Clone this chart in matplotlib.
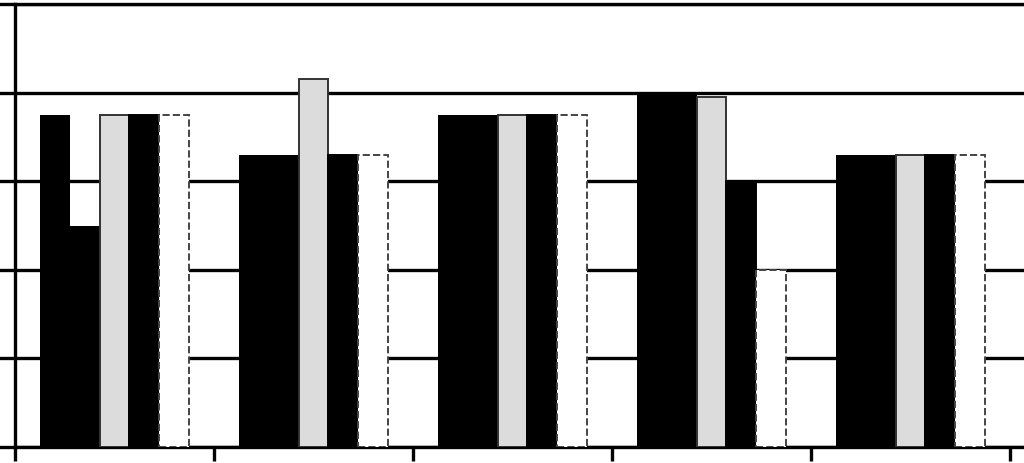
import matplotlib
matplotlib.use("Agg")
import matplotlib.pyplot as plt
import numpy as np

categories = ["G1", "G2", "G3", "G4", "G5"]
series_a = [75, 66, 75, 80, 66]
series_b = [50, 66, 75, 80, 66]
series_c = [75, 83, 75, 79, 66]
series_d = [75, 66, 75, 60, 66]
series_e = [75, 66, 75, 40, 66]
y_ticks = [0, 20, 40, 60, 80, 100]

series = [series_a, series_b, series_c, series_d, series_e]
faces = ["black", "black", "#dcdcdc", "black", "white"]
edges = ["black", "black", "#333333", "black", "#444444"]

fig = plt.figure(figsize=(10.24, 4.63), dpi=100)
ax = fig.add_axes([15/1024, 16/463, 1 - 15/1024, (447-4)/463])

x = np.arange(len(categories))
w = 0.15
for i, vals in enumerate(series):
    ax.bar(x + (i - 2) * w, vals, width=w, color=faces[i], edgecolor=edges[i],
           linewidth=1.4 if i >= 2 else 0, zorder=3,
           linestyle="--" if i == 4 else "-")

ax.set_ylim(0, 100)
ax.set_xlim(-0.5, 4.57)
ax.set_yticks(y_ticks)
ax.set_yticklabels([])
ax.set_xticks(np.arange(-0.5, 5, 1))
ax.set_xticklabels([])
ax.grid(axis="y", color="black", linewidth=2.4, zorder=0)
ax.set_axisbelow(True)
ax.spines["right"].set_visible(False)
for s in ["left", "bottom", "top"]:
    ax.spines[s].set_linewidth(2.4)
ax.tick_params(axis="y", length=12, width=2.4, direction="out")
ax.tick_params(axis="x", length=10, width=2.4, direction="out")

fig.savefig("out.png", dpi=100, facecolor="white")
